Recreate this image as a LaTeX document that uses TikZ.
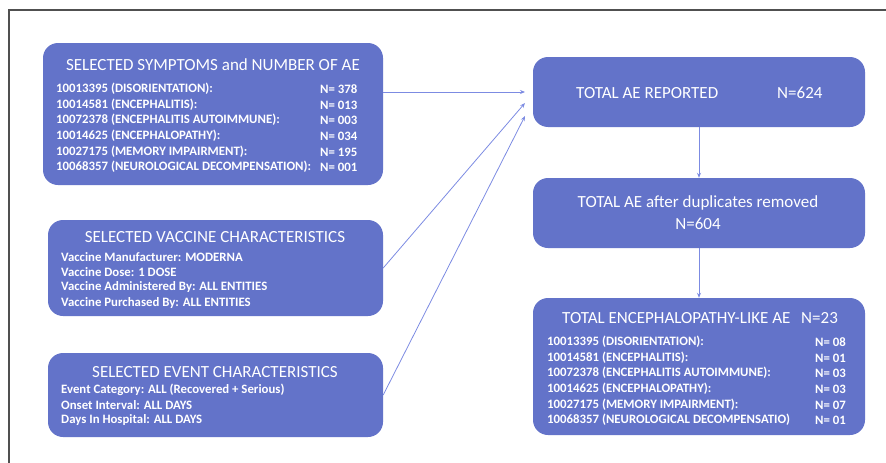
\documentclass[tikz,border=0pt]{standalone}
\usepackage{fontspec}
\setmainfont{Carlito}
\usetikzlibrary{arrows.meta}
\definecolor{boxblue}{RGB}{99,115,201}
\definecolor{arrowblue}{RGB}{124,139,226}
\definecolor{framegrey}{RGB}{80,80,80}
\tikzset{
  box/.style={draw=none, fill=boxblue, rounded corners=15pt, inner sep=0pt},
  ttl/.style={text=white, font=\fontsize{17}{20}\selectfont, inner sep=0pt},
  row/.style={text=white, font=\fontsize{12.8}{14}\selectfont\bfseries, anchor=west, inner sep=0pt},
  num/.style={text=white, font=\fontsize{12.8}{14}\selectfont\bfseries, anchor=west, inner sep=0pt},
  conn/.style={draw=arrowblue, line width=0.8pt, -{Stealth[length=5pt,width=4pt]}},
}
\begin{document}
\begin{tikzpicture}[x=1pt,y=-1pt]
\useasboundingbox (0,0) rectangle (886,463);
\draw[framegrey, line width=1.5pt] (9,463) -- (9,10) -- (886,10);
% boxes
\node[box, minimum width=340pt, minimum height=142pt] (b1) at (213,114) {};
\node[box, minimum width=335pt, minimum height=96pt] (b2) at (215.5,268) {};
\node[box, minimum width=335pt, minimum height=84pt] (b3) at (215.5,395) {};
\node[box, minimum width=332pt, minimum height=70pt] (b4) at (699,92) {};
\node[box, minimum width=332pt, minimum height=70pt] (b5) at (699,213) {};
\node[box, minimum width=332pt, minimum height=137pt] (b6) at (699,366.5) {};
% box 1 text
\node[ttl] (t1) at (213,65) {SELECTED SYMPTOMS and NUMBER OF AE};
\node[row] (r11) at (56,89) {10013395 (DISORIENTATION):};
\node[row] (r12) at (56,105) {10014581 (ENCEPHALITIS):};
\node[row] (r13) at (56,120) {10072378 (ENCEPHALITIS AUTOIMMUNE):};
\node[row] (r14) at (56,136) {10014625 (ENCEPHALOPATHY):};
\node[row] (r15) at (56,152) {10027175 (MEMORY IMPAIRMENT):};
\node[row] (r16) at (56,167) {10068357 (NEUROLOGICAL DECOMPENSATION):};
\node[num] (n11) at (320,89) {N= 378};
\node[num] (n12) at (320,105) {N= 013};
\node[num] (n13) at (320,120) {N= 003};
\node[num] (n14) at (320,136) {N= 034};
\node[num] (n15) at (320,152) {N= 195};
\node[num] (n16) at (320,167) {N= 001};
% box 2 text
\node[ttl] (t2) at (215,237) {SELECTED VACCINE CHARACTERISTICS};
\node[row] (r21) at (61,257) {Vaccine Manufacturer: MODERNA};
\node[row] (r22) at (61,272) {Vaccine Dose: 1 DOSE};
\node[row] (r23) at (61,287) {Vaccine Administered By: ALL ENTITIES};
\node[row] (r24) at (61,303) {Vaccine Purchased By: ALL ENTITIES};
% box 3 text
\node[ttl] (t3) at (215,372) {SELECTED EVENT CHARACTERISTICS};
\node[row] (r31) at (61,390) {Event Category: ALL (Recovered + Serious)};
\node[row] (r32) at (61,405) {Onset Interval: ALL DAYS};
\node[row] (r33) at (61,420) {Days In Hospital: ALL DAYS};
% box 4 text
\node[ttl, anchor=west] (t4) at (576,93) {TOTAL AE REPORTED};
\node[ttl, anchor=west] (t4n) at (777,93) {N=624};
% box 5 text
\node[ttl] (t5) at (698,203) {TOTAL AE after duplicates removed};
\node[ttl] (t5n) at (698,224) {N=604};
% box 6 text
\node[ttl, anchor=west] (t6) at (562,318) {TOTAL ENCEPHALOPATHY-LIKE AE};
\node[ttl, anchor=west] (t6n) at (801,318) {N=23};
\node[row] (r61) at (547,342) {10013395 (DISORIENTATION):};
\node[row] (r62) at (547,358) {10014581 (ENCEPHALITIS):};
\node[row] (r63) at (547,373) {10072378 (ENCEPHALITIS AUTOIMMUNE):};
\node[row] (r64) at (547,389) {10014625 (ENCEPHALOPATHY):};
\node[row] (r65) at (547,405) {10027175 (MEMORY IMPAIRMENT):};
\node[row] (r66) at (547,420) {10068357 (NEUROLOGICAL DECOMPENSATIO)};
\node[num] (n61) at (815,342) {N= 08};
\node[num] (n62) at (815,358) {N= 01};
\node[num] (n63) at (815,373) {N= 03};
\node[num] (n64) at (815,389) {N= 03};
\node[num] (n65) at (815,405) {N= 07};
\node[num] (n66) at (815,420) {N= 01};
% connector ends
\coordinate (s1) at (b1.east |- 0,92);
\coordinate (e1) at (525,92);
\coordinate (e2) at (525,103);
\coordinate (e3) at (525,116);
\draw[conn] (s1) -- (e1);
\draw[conn] (b2.east) -- (e2);
\draw[conn] (b3.east) -- (e3);
\draw[conn] (b4.south) -- (b5.north);
\draw[conn] (b5.south) -- (b6.north);
\end{tikzpicture}
\end{document}
